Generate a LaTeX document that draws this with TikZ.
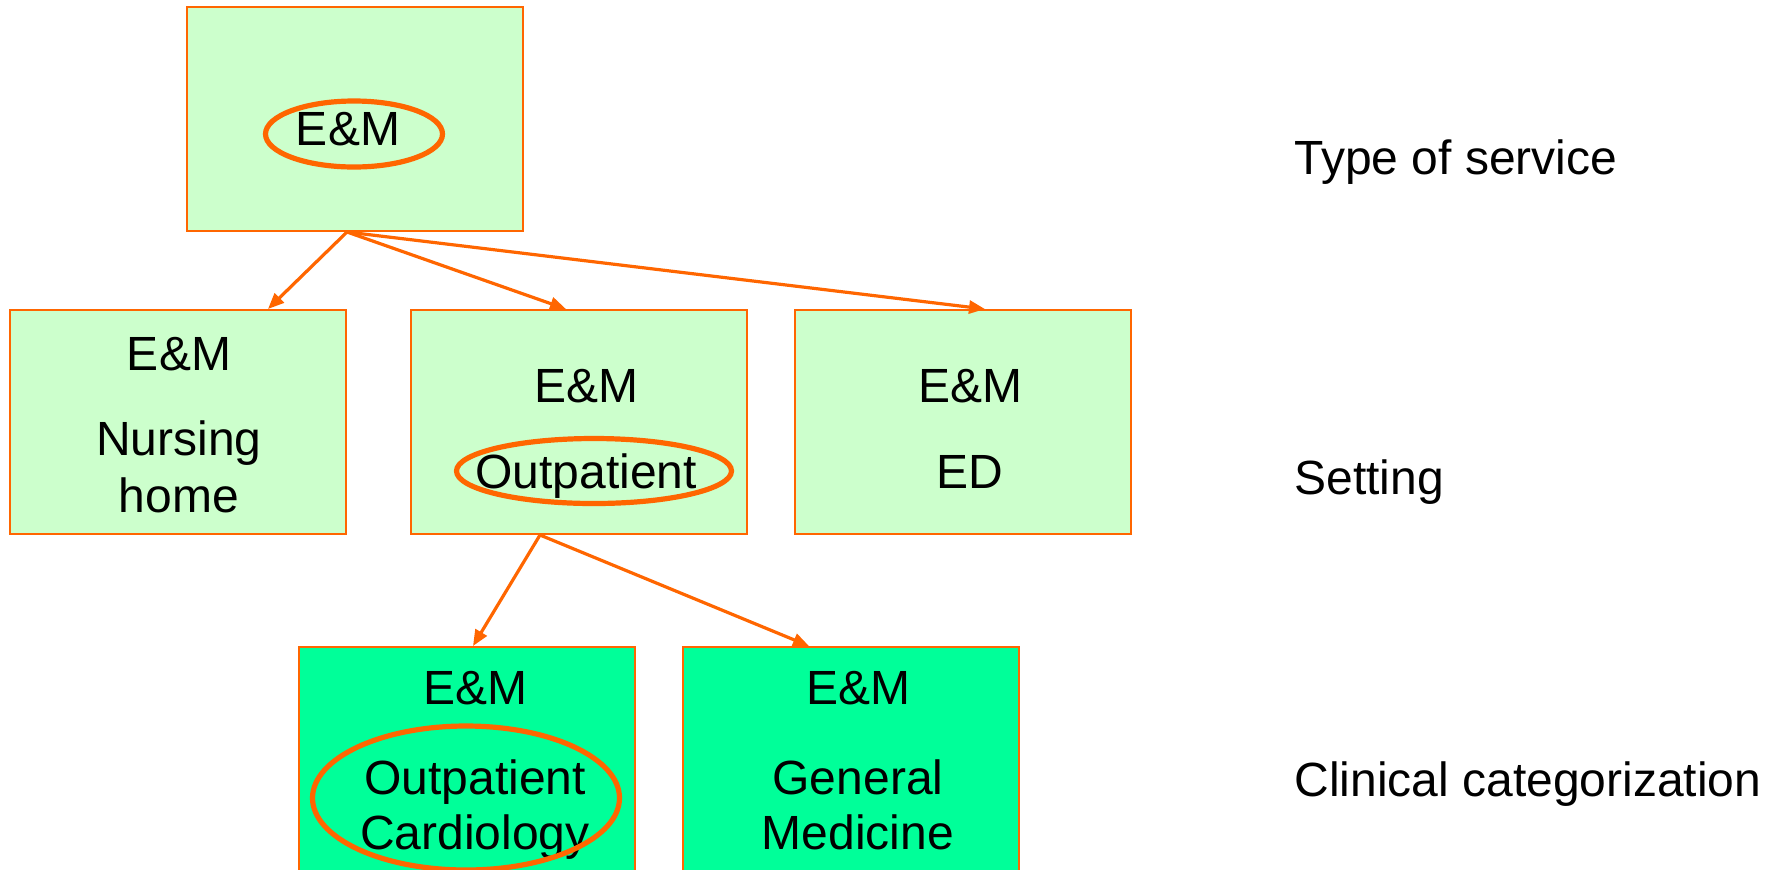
\documentclass[tikz,border=0pt]{standalone}
\usepackage{fontspec}
\setmainfont{Liberation Sans}
\usetikzlibrary{shapes.geometric,arrows.meta,calc}
\definecolor{paleG}{HTML}{CCFFCC}
\definecolor{brightG}{HTML}{00FF99}
\definecolor{edgeO}{HTML}{FF6600}
\tikzset{
  box/.style={draw=edgeO, line width=1pt, minimum width=168pt, minimum height=112pt, inner sep=0pt},
  lvl/.style={box, fill=paleG},
  leaf/.style={box, fill=brightG},
  txt/.style={anchor=base, inner sep=0pt, font=\fontsize{24}{28}\selectfont},
  side/.style={anchor=base west, inner sep=0pt, font=\fontsize{24}{28}\selectfont},
  ring/.style={draw=edgeO, line width=2.6pt, ellipse, inner sep=0pt},
  link/.style={draw=edgeO, line width=1.6pt, -{Triangle[length=8pt,width=6.5pt]}},
}
\begin{document}
\begin{tikzpicture}[x=0.5pt,y=-0.5pt]
\useasboundingbox (0,0) rectangle (1775,869);

% boxes
\node[lvl]  (top)   at (355,119) {};
\node[lvl]  (nurse) at (178,422) {};
\node[lvl]  (outp)  at (579,422) {};
\node[lvl]  (ed)    at (963,422) {};
\node[leaf] (cardio) at (467,759) {};
\node[leaf] (genmed) at (851,759) {};

% box texts
\node[txt] (t0)  at (348,145) {E\&M};
\node[txt] (n1)  at (179,370) {E\&M};
\node[txt] (n2)  at (179,455) {Nursing};
\node[txt] (n3)  at (179,512) {home};
\node[txt] (o1)  at (586,402) {E\&M};
\node[txt] (o2)  at (586,488) {Outpatient};
\node[txt] (e1)  at (970,402) {E\&M};
\node[txt] (e2)  at (970,488) {ED};
\node[txt] (c1)  at (475,704) {E\&M};
\node[txt] (c2)  at (475,794) {Outpatient};
\node[txt] (c3)  at (475,849) {Cardiology};
\node[txt] (g1)  at (858,704) {E\&M};
\node[txt] (g2)  at (858,794) {General};
\node[txt] (g3)  at (858,849) {Medicine};

% highlighted path
\node[ring, minimum width=88.5pt, minimum height=33pt] (r0) at (354,134) {};
\node[ring, minimum width=137.5pt, minimum height=32.5pt] (r1) at (594,471) {};
\node[ring, minimum width=153.5pt, minimum height=72pt] (r2) at (466,798) {};

% level names
\node[side] (s1) at (1294,174) {Type of service};
\node[side] (s2) at (1294,494) {Setting};
\node[side] (s3) at (1294,796) {Clinical categorization};

% connectors
\coordinate (fromtop) at ([xshift=-4pt]top.south);
\coordinate (fromout) at ([xshift=-19.5pt]outp.south);
\draw[link] (fromtop) -- ([xshift=45pt]nurse.north);
\draw[link] (fromtop) -- ([xshift=-6.5pt]outp.north);
\draw[link] (fromtop) -- ([xshift=11pt]ed.north);
\draw[link] (fromout) -- ([xshift=3pt]cardio.north);
\draw[link] (fromout) -- ([xshift=-21pt]genmed.north);
\end{tikzpicture}
\end{document}
